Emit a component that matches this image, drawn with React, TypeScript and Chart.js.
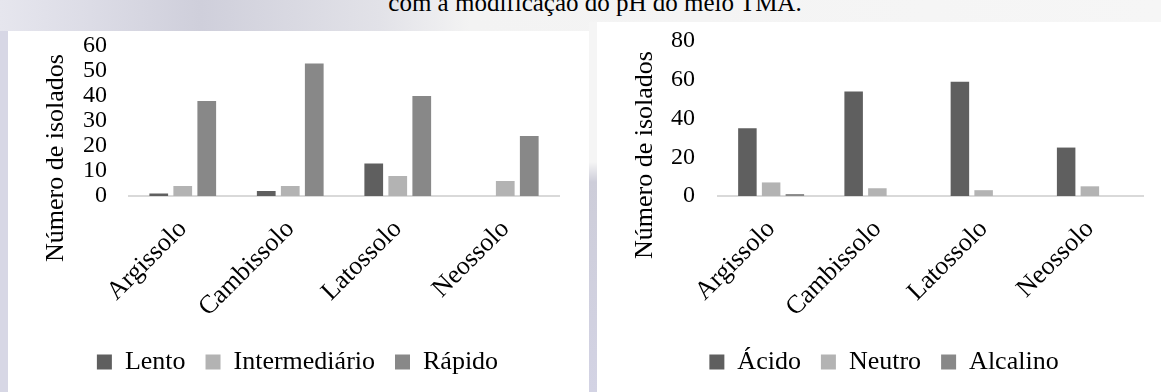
import React, { useEffect, useRef } from 'react';
import { Chart, registerables } from 'chart.js';

Chart.register(...registerables);

// ---- data ----
const categories = ['Argissolo', 'Cambissolo', 'Latossolo', 'Neossolo'];

const leftSeriesNames = ['Lento', 'Intermediário', 'Rápido'];
const lento = [1, 2, 13, 0];
const intermediario = [4, 4, 8, 6];
const rapido = [38, 53, 40, 24];
const leftTicks = [0, 10, 20, 30, 40, 50, 60];

const rightSeriesNames = ['Ácido', 'Neutro', 'Alcalino'];
const acido = [35, 54, 59, 25];
const neutro = [7, 4, 3, 5];
const alcalino = [1, 0, 0, 0];
const rightTicks = [0, 20, 40, 60, 80];

const yTitle = 'Número de isolados';
const caption = 'com a modificação do pH do meio TMA.';

const seriesColors = ['#5f5f5f', '#b3b3b3', '#888888'];
const FONT = "'Liberation Serif', 'Times New Roman', serif";

// Draws the rotated y-axis title at a given canvas position (Excel places it off-centre)
const yTitlePlugin = {
  id: 'yTitleCustom',
  afterDraw(chart: any, _args: any, opts: any) {
    if (!opts || !opts.text) return;
    const ctx = chart.ctx;
    ctx.save();
    ctx.translate(opts.x, opts.cy);
    ctx.rotate(-Math.PI / 2);
    ctx.font = `${opts.size}px ${FONT}`;
    ctx.fillStyle = '#000';
    ctx.textAlign = 'center';
    ctx.textBaseline = 'middle';
    ctx.fillText(opts.text, 0, 0);
    ctx.restore();
  },
};

type Props = {
  width: number;
  height: number;
  names: string[];
  series: number[][];
  ticks: number[];
  padTop: number;
  padRight: number;
  tickPad: number;
  titleCy: number;
};

function BarChart({ width, height, names, series, ticks, padTop, padRight, tickPad, titleCy }: Props) {
  const ref = useRef<HTMLCanvasElement>(null);
  useEffect(() => {
    if (!ref.current) return;
    const chart = new Chart(ref.current, {
      type: 'bar',
      data: {
        labels: categories,
        datasets: names.map((n, i) => ({
          label: n,
          data: series[i],
          backgroundColor: seriesColors[i],
          borderWidth: 0,
          categoryPercentage: 0.67,
          barPercentage: 0.78,
        })),
      },
      plugins: [yTitlePlugin],
      options: {
        responsive: false,
        maintainAspectRatio: false,
        animation: false,
        layout: { padding: { left: 28, right: padRight, top: padTop, bottom: 7 } },
        plugins: {
          legend: {
            position: 'bottom',
            labels: {
              font: { family: FONT, size: 26 },
              color: '#000',
              boxWidth: 15,
              boxHeight: 15,
              padding: 20,
            },
          },
          tooltip: { enabled: false },
          yTitleCustom: { text: yTitle, x: 48, cy: titleCy, size: 26 },
        },
        scales: {
          x: {
            grid: { display: false, drawTicks: false },
            border: { display: true, color: '#d9d9d9', width: 2 },
            ticks: {
              font: { family: FONT, size: 26 },
              color: '#000',
              minRotation: 45,
              maxRotation: 45,
              padding: 18,
              autoSkip: false,
            },
            afterFit: (s: any) => {
              s.height = 133;
            },
          },
          y: {
            min: ticks[0],
            max: ticks[ticks.length - 1],
            grid: { display: false, drawTicks: false },
            border: { display: false },
            ticks: {
              stepSize: ticks[1] - ticks[0],
              font: { family: FONT, size: 24 },
              color: '#000',
              padding: tickPad,
              autoSkip: false,
            },
            title: { display: false },
            afterFit: (s: any) => {
              s.width = 93;
              s.paddingTop = 0;
              s.paddingBottom = 0;
            },
          },
        },
      },
    } as any);
    return () => chart.destroy();
  }, []);
  return <canvas ref={ref} width={width} height={height} style={{ width, height, display: 'block' }} />;
}

export default function App() {
  return (
    <div
      style={{
        position: 'fixed',
        left: 0,
        top: 0,
        width: 1161,
        height: 392,
        overflow: 'hidden',
        background: '#d7d7e5',
      }}
    >
      <div
        style={{
          position: 'absolute',
          left: 0,
          top: 0,
          width: 1161,
          height: 31,
          background:
            'linear-gradient(to right, #e6e6ee 0px, #dcdce6 90px, #cfcfdb 200px, #e2e2e8 380px, #f3f3f3 470px, #f6f6f6 100%)',
        }}
      />
      <div
        style={{
          position: 'absolute',
          left: 589,
          top: 22,
          width: 8,
          height: 370,
          background: 'linear-gradient(to bottom, #f5f5f5 0px, #f5f5f5 140px, #cdcdd9 160px, #d3d3e4 100%)',
        }}
      />
      <div
        style={{
          position: 'absolute',
          left: 0,
          top: -10,
          width: 1190,
          textAlign: 'center',
          fontFamily: FONT,
          fontSize: 25,
          lineHeight: '25px',
          color: '#000',
          whiteSpace: 'nowrap',
        }}
      >
        {caption}
      </div>
      <div style={{ position: 'absolute', left: 8, top: 31, width: 581, height: 361, background: '#fff' }}>
        <BarChart
          width={581}
          height={361}
          names={leftSeriesNames}
          series={[lento, intermediario, rapido]}
          ticks={leftTicks}
          padTop={15}
          padRight={30}
          tickPad={22}
          titleCy={127}
        />
      </div>
      <div style={{ position: 'absolute', left: 597, top: 22, width: 564, height: 370, background: '#fff' }}>
        <BarChart
          width={564}
          height={370}
          names={rightSeriesNames}
          series={[acido, neutro, alcalino]}
          ticks={rightTicks}
          padTop={19}
          padRight={18}
          tickPad={23}
          titleCy={133}
        />
      </div>
    </div>
  );
}
